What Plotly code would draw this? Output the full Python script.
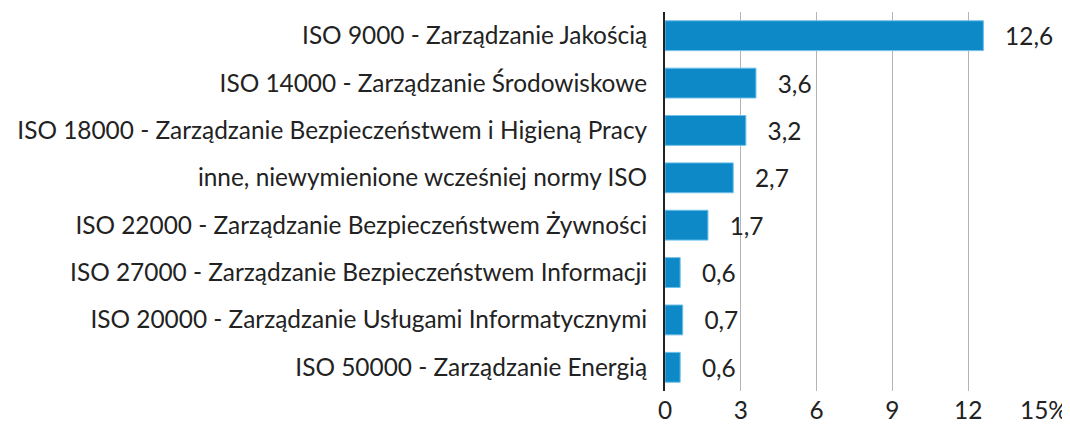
import plotly.graph_objects as go

categories = [
    "ISO 9000 - Zarządzanie Jakością",
    "ISO 14000 - Zarządzanie Środowiskowe",
    "ISO 18000 - Zarządzanie Bezpieczeństwem i Higieną Pracy",
    "inne, niewymienione wcześniej normy ISO",
    "ISO 22000 - Zarządzanie Bezpieczeństwem Żywności",
    "ISO 27000 - Zarządzanie Bezpieczeństwem Informacji",
    "ISO 20000 - Zarządzanie Usługami Informatycznymi",
    "ISO 50000 - Zarządzanie Energią",
]
values = [12.6, 3.6, 3.2, 2.7, 1.7, 0.6, 0.7, 0.6]
tick_vals = [0, 3, 6, 9, 12, 15]
tick_text = ["0", "3", "6", "9", "12", "15%"]

FONT = "Lato"
SIZE = 24.4
TXT = "#222222"

fig = go.Figure()
fig.add_trace(go.Bar(
    y=categories, x=values, orientation="h",
    marker=dict(color="#0e89c8", line=dict(color="#6cc0ea", width=1)),
    width=0.63,
    text=[f"{v:.1f}".replace(".", ",") for v in values],
    texttemplate="   %{text}",
    textposition="outside",
    textfont=dict(family=FONT, size=SIZE, color=TXT),
    cliponaxis=False,
))

# page body has an 8px default margin; size the figure to fill the window
fig.update_layout(
    width=1062, height=417,
    margin=dict(l=657, r=26, t=4, b=34),
    paper_bgcolor="white", plot_bgcolor="white",
    showlegend=False,
    font=dict(family=FONT, size=SIZE, color=TXT),
    bargap=0.37,
)
fig.update_xaxes(
    range=[0, 15], tickvals=tick_vals, ticktext=tick_text,
    showgrid=True, gridcolor="#b4b4b4", gridwidth=1,
    zeroline=False, showline=False,
    tickfont=dict(family=FONT, size=SIZE, color=TXT),
    ticks="", ticklabelstandoff=3, automargin=False,
)
fig.update_yaxes(
    autorange="reversed", categoryorder="array", categoryarray=categories,
    showline=True, linecolor="#222222", linewidth=2,
    showgrid=False, zeroline=False, ticks="",
    ticklabelstandoff=11, automargin=False,
    tickfont=dict(family=FONT, size=SIZE, color=TXT),
)

fig.write_html("out.html")
